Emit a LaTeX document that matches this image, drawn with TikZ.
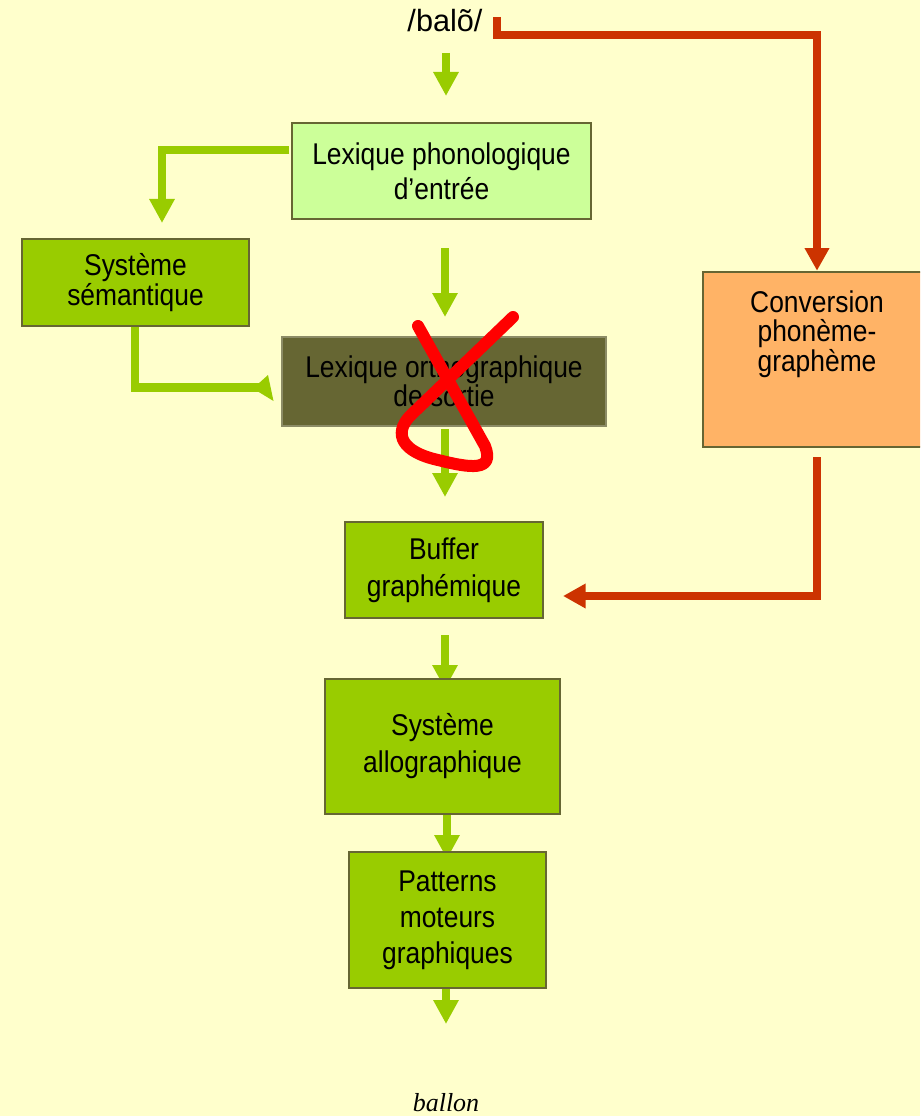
\documentclass[tikz,border=0pt]{standalone}
\usepackage{fontspec}
\setmainfont{Liberation Sans}[FakeStretch=0.88]
\newfontfamily\balofont{Liberation Sans}
\newfontfamily\ballonfont{Liberation Serif}
\usetikzlibrary{arrows.meta}
\definecolor{bgc}{HTML}{FFFFCC}
\definecolor{gc}{HTML}{99CC00}
\definecolor{lgc}{HTML}{CCFF99}
\definecolor{olivec}{HTML}{666633}
\definecolor{rc}{HTML}{CC3300}
\definecolor{orc}{HTML}{FFB366}
\definecolor{xred}{HTML}{FF0000}
\pgfdeclarelayer{back}
\pgfdeclarelayer{bg}
\pgfsetlayers{back,bg,main}
\begin{document}
\begin{tikzpicture}[x=0.75pt,y=-0.75pt,
  box/.style={draw=olivec, line width=1.9pt, align=center, inner sep=0pt},
  garrow/.style={draw=gc, line width=6pt, line join=miter, -{Triangle[width=18pt,length=18pt]}},
  gline/.style={draw=gc, line width=6.5pt, line join=miter},
  rarrow/.style={draw=rc, line width=5.5pt, line join=miter, -{Triangle[width=17.5pt,length=17pt]}},
  cross/.style={draw=xred, line width=9pt, line cap=round, line join=round},
]
\begin{pgfonlayer}{back}
\fill[bgc] (0,0) rectangle (920,1116);
\end{pgfonlayer}
\useasboundingbox (0,0) rectangle (920,1116);
\clip (0,0) rectangle (920,1116);

% nodes
\node[font=\balofont\fontsize{23}{26}\selectfont, anchor=base, inner sep=0pt] (balo) at (445,32) {/balõ/};
\node[box, fill=lgc, minimum width=224.25pt, minimum height=72pt,
      font=\fontsize{22.5}{26.25}\selectfont] (phon) at (441.5,171) {Lexique phonologique\\d’entrée};
\node[box, fill=gc, minimum width=170.25pt, minimum height=65.25pt,
      font=\fontsize{22.5}{20.25}\selectfont] (sem) at (135.5,282.5) {Système\\sémantique};
\node[box, fill=olivec, draw=olivec!75!white, line width=0.8pt, minimum width=243pt, minimum height=66.75pt,
      font=\fontsize{22.5}{20.25}\selectfont] (orth) at (444,381.5) {Lexique orthographique\\de sortie};
\node[box, fill=orc, minimum width=171pt, minimum height=131.25pt] (conv) at (817,359.5) {};
\node[align=center, inner sep=0pt, font=\fontsize{22.5}{22}\selectfont] (convt) at (817,334) {Conversion\\phonème-\\graphème};
\node[box, fill=gc, minimum width=148.5pt, minimum height=72pt,
      font=\fontsize{22.5}{27.75}\selectfont] (buf) at (444,570) {Buffer\\graphémique};
\node[box, fill=gc, minimum width=176.25pt, minimum height=101.25pt,
      font=\fontsize{22.5}{27.75}\selectfont] (allo) at (442.5,746.5) {Système\\allographique};
\node[box, fill=gc, minimum width=147.75pt, minimum height=102pt,
      font=\fontsize{22.5}{27}\selectfont] (pat) at (447.5,920) {Patterns\\moteurs\\graphiques};
\node[font=\ballonfont\itshape\fontsize{19.5}{22}\selectfont, anchor=base, inner sep=0pt] (ballon) at (446,1111) {ballon};

% connector end points
\coordinate (a1s) at (446,53);  \coordinate (a1e) at (446,96);
\coordinate (a2s) at (445,248); \coordinate (a2e) at (445,317);
\coordinate (a3s) at (445,429); \coordinate (a3e) at (445,497);
\coordinate (a4s) at (445,635); \coordinate (a4e) at (445,689);
\coordinate (a5s) at (447,810); \coordinate (a5e) at (447,859);
\coordinate (a6s) at (446,988); \coordinate (a6e) at (446,1024);
\coordinate (b1s) at (289,150); \coordinate (b1k) at (162,150); \coordinate (b1e) at (162,223);
\coordinate (b2s) at (135,326); \coordinate (b2k) at (135,387.5); \coordinate (b2e) at (262,387.5);
\coordinate (h1) at (268,375); \coordinate (h2) at (253,388.5); \coordinate (h3) at (273.5,401);
\coordinate (r1s) at (497,17); \coordinate (r1k) at (497,35); \coordinate (r1m) at (817,35);
\coordinate (r2s) at (817,457); \coordinate (r2k) at (817,596); \coordinate (r2e) at (563,596);

\begin{pgfonlayer}{bg}
  \draw[garrow] (a1s) -- (a1e);
  \draw[garrow] (a2s) -- (a2e);
  \draw[garrow] (a3s) -- (a3e);
  \draw[garrow] (a4s) -- (a4e);
  \draw[garrow] (a5s) -- (a5e);
  \draw[garrow] (a6s) -- (a6e);
  \draw[garrow] (b1s) -- (b1k) -- (b1e);
  \draw[gline] (b2s) -- (b2k) -- (b2e);
  \fill[gc] (h1) -- (h2) -- (h3) -- cycle;
  \draw[rarrow] (r1s) -- (r1k) -- (r1m) -- (conv.north);
  \draw[rarrow] (r2s) -- (r2k) -- (r2e);
\end{pgfonlayer}

% red cross over the output orthographic lexicon
\draw[cross] (513,317) -- (410,416)
  .. controls (393,434) and (402,452) .. (438,460)
  .. controls (470,468) and (495,472) .. (485,446)
  -- (418,326);
\end{tikzpicture}
\end{document}
